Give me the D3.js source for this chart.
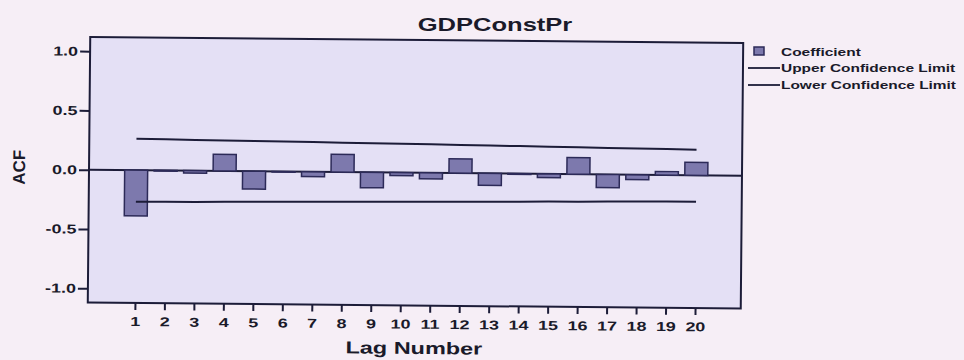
<!DOCTYPE html>
<html>
<head>
<meta charset="utf-8">
<script src="https://cdn.jsdelivr.net/npm/d3@7"></script>
<style>
  html, body { margin: 0; padding: 0; background: #f6eef6; }
  svg { display: block; }
  text { font-family: "Liberation Sans", Arial, sans-serif; font-weight: bold; fill: #1a1a2a; }
</style>
</head>
<body>
<svg id="chart" width="964" height="360"></svg>
<script>
// Autocorrelation function of GDPConstPr, lags 1..20
const lags = [1, 2, 3, 4, 5, 6, 7, 8, 9, 10, 11, 12, 13, 14, 15, 16, 17, 18, 19, 20];
const coefficient = [-0.385, -0.005, -0.02, 0.14, -0.15, -0.005, -0.04, 0.15, -0.13, -0.025,
                     -0.05, 0.12, -0.10, -0.005, -0.03, 0.14, -0.11, -0.04, 0.03, 0.11];
const upperLimit = [0.265, 0.263, 0.260, 0.258, 0.256, 0.253, 0.251, 0.248, 0.246, 0.243,
                    0.241, 0.238, 0.235, 0.233, 0.230, 0.227, 0.224, 0.222, 0.219, 0.216];
const lowerLimit = [-0.267, -0.265, -0.263, -0.260, -0.258, -0.256, -0.253, -0.251, -0.248, -0.246,
                    -0.243, -0.241, -0.238, -0.236, -0.233, -0.231, -0.228, -0.226, -0.224, -0.222];
const yTickValues = [-1.0, -0.5, 0.0, 0.5, 1.0];
const legendLabels = ["Coefficient", "Upper Confidence Limit", "Lower Confidence Limit"];

const ink = "#1c1c38";
const barFill = "#7d79ad";
const plotFill = "#e4e0f5";
const wide = 1.38; // horizontal stretch of the wide lettering

const plot = { left: 89, right: 742, top: 40, bottom: 305.5 };
const svg = d3.select("#chart");

const x = d3.scaleLinear().domain([-0.6, 21.55]).range([plot.left, plot.right]);
const y = d3.scaleLinear().domain([-1.12, 1.12]).range([plot.bottom, plot.top]);
const step = x(2) - x(1);
const barW = step * 0.78;

// Tick labels with a plain hyphen for negatives
const fmtY = (v) => d3.format(".1f")(v).replace("\u2212", "-");

// Title
svg.append("text")
  .attr("transform", "translate(495,31) scale(" + wide + ",1)")
  .attr("text-anchor", "middle")
  .style("font-size", "18.5px")
  .text("GDPConstPr");

// Plot area, slightly tilted
const g = svg.append("g").attr("transform", "rotate(0.53,416,172)");

g.append("rect")
  .attr("x", plot.left).attr("y", plot.top)
  .attr("width", plot.right - plot.left).attr("height", plot.bottom - plot.top)
  .attr("fill", plotFill);

// Zero reference line
g.append("line")
  .attr("x1", plot.left).attr("x2", plot.right)
  .attr("y1", y(0)).attr("y2", y(0))
  .attr("stroke", ink).attr("stroke-width", 2);

// Coefficient bars
g.append("g").selectAll("rect")
  .data(lags)
  .join("rect")
  .attr("x", (d) => x(d) - barW / 2)
  .attr("width", barW)
  .attr("y", (d, i) => y(Math.max(0, coefficient[i])))
  .attr("height", (d, i) => Math.abs(y(coefficient[i]) - y(0)))
  .attr("fill", barFill)
  .attr("stroke", "#2c2a58")
  .attr("stroke-width", 1.5);

// Confidence limits
const limitLine = d3.line().x((d) => x(d[0])).y((d) => y(d[1]));
g.append("path")
  .attr("d", limitLine(lags.map((l, i) => [l, upperLimit[i]])))
  .attr("fill", "none").attr("stroke", ink).attr("stroke-width", 2);
g.append("path")
  .attr("d", limitLine(lags.map((l, i) => [l, lowerLimit[i]])))
  .attr("fill", "none").attr("stroke", ink).attr("stroke-width", 2);

// Frame
g.append("rect")
  .attr("x", plot.left).attr("y", plot.top)
  .attr("width", plot.right - plot.left).attr("height", plot.bottom - plot.top)
  .attr("fill", "none").attr("stroke", ink).attr("stroke-width", 2);

// Y axis
const yAxis = g.append("g")
  .attr("transform", "translate(" + plot.left + ",0)")
  .call(d3.axisLeft(y).tickValues(yTickValues).tickFormat(fmtY).tickSize(10));
yAxis.select(".domain").remove();
yAxis.selectAll(".tick line").attr("stroke", ink).attr("stroke-width", 2);
yAxis.selectAll(".tick text")
  .attr("x", -12 / wide)
  .attr("transform", "scale(" + wide + ",1)")
  .style("font-size", "13px")
  .attr("fill", "#1a1a2a");

// X axis
const xAxis = g.append("g")
  .attr("transform", "translate(0," + plot.bottom + ")")
  .call(d3.axisBottom(x).tickValues(lags).tickFormat(d3.format("d")).tickSize(7));
xAxis.select(".domain").remove();
xAxis.selectAll(".tick line").attr("stroke", ink).attr("stroke-width", 2);
xAxis.selectAll(".tick text")
  .attr("y", 14)
  .attr("transform", "scale(" + wide + ",1)")
  .style("font-size", "13px")
  .attr("fill", "#1a1a2a");

// Axis titles
g.append("text")
  .attr("transform", "translate(" + ((plot.left + plot.right) / 2) + ",354) scale(" + wide + ",1)")
  .attr("text-anchor", "middle")
  .style("font-size", "17px")
  .text("Lag Number");
g.append("text")
  .attr("transform", "translate(25,171) rotate(-90)")
  .attr("text-anchor", "middle")
  .style("font-size", "17px")
  .text("ACF");

// Legend
const legend = svg.append("g");
legend.append("rect")
  .attr("x", 754).attr("y", 47).attr("width", 10).attr("height", 8)
  .attr("fill", barFill).attr("stroke", "#2c2a58").attr("stroke-width", 1.5);
[68, 85].forEach((ly) => {
  legend.append("line")
    .attr("x1", 748).attr("x2", 780).attr("y1", ly).attr("y2", ly)
    .attr("stroke", ink).attr("stroke-width", 1.8);
});
const legendBaselines = [56, 72, 89];
legendLabels.forEach((label, i) => {
  legend.append("text")
    .attr("transform", "translate(781," + legendBaselines[i] + ") scale(" + wide + ",1)")
    .style("font-size", "11.2px")
    .text(label);
});
</script>
</body>
</html>
